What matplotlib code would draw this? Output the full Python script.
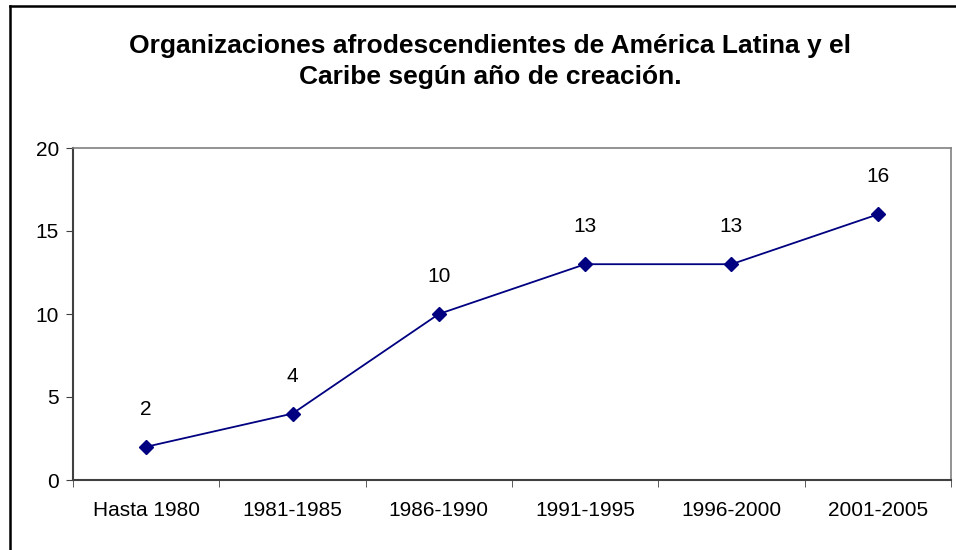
import matplotlib.pyplot as plt
from matplotlib.lines import Line2D

periodos = ["Hasta 1980", "1981-1985", "1986-1990", "1991-1995", "1996-2000", "2001-2005"]
organizaciones = [2, 4, 10, 13, 13, 16]
y_ticks = [0, 5, 10, 15, 20]

plt.rcParams['font.family'] = ['Liberation Sans', 'DejaVu Sans']

fig = plt.figure(figsize=(9.56, 5.5), dpi=100)
ax = fig.add_axes([73/956, 1-480/550, 878/956, 332/550])

x = range(len(periodos))
ax.plot(x, organizaciones, color='#000080', lw=1.3, marker='D', ms=7,
        markerfacecolor='#000080', markeredgecolor='#000080')
for xi, v in zip(x, organizaciones):
    ax.annotate(str(v), (xi, v), xytext=(0, 27), textcoords='offset points',
                ha='center', va='center', fontsize=15)

ax.set_xlim(-0.5, len(periodos) - 0.5)
ax.set_ylim(0, 20)
ax.set_yticks(y_ticks)
ax.set_xticks(list(x))
ax.set_xticklabels(periodos)
ax.set_xticks([i + 0.5 for i in range(-1, len(periodos))], minor=True)
ax.tick_params(axis='x', which='major', length=0, pad=15, labelsize=15)
ax.tick_params(axis='x', which='minor', length=5, color='#404040')
ax.tick_params(axis='y', length=5, color='#404040', labelsize=15, pad=5)

for s in ['left', 'bottom']:
    ax.spines[s].set_color('#404040')
    ax.spines[s].set_linewidth(1.5)
for s in ['top', 'right']:
    ax.spines[s].set_color('#808080')
    ax.spines[s].set_linewidth(1.2)

fig.text(490/956, 1-46/550, "Organizaciones afrodescendientes de América Latina y el",
         ha='center', va='center', fontsize=19, fontweight='bold')
fig.text(490/956, 1-77/550, "Caribe según año de creación.",
         ha='center', va='center', fontsize=19, fontweight='bold')

# marco exterior del gráfico
fig.add_artist(Line2D([10/956, 10/956], [0, 1-5.5/550], transform=fig.transFigure,
                      color='black', lw=1.8))
fig.add_artist(Line2D([10/956, 1], [1-5.5/550, 1-5.5/550], transform=fig.transFigure,
                      color='black', lw=1.8))

fig.savefig('out.png', dpi=100)
